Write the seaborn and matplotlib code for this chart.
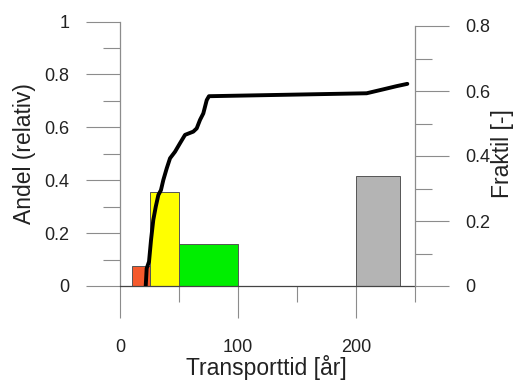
import matplotlib
matplotlib.use("Agg")
import matplotlib.pyplot as plt
import seaborn as sns
import numpy as np
from matplotlib.ticker import FixedLocator, FixedFormatter

# ---- data ----
bin_edges = [10, 25, 50, 100, 200, 237.5]
bar_heights = [0.075, 0.355, 0.158, 0.0, 0.417]
bar_colors = ["#f55a2d", "#ffff00", "#00ee00", "#ffffff", "#b4b4b4"]

line_x = [21.8, 22.6, 24.6, 26.3, 28.2, 30.3, 32.5, 34.7, 36.7, 39.6, 42.4, 46.6,
          50.8, 55.1, 62.1, 65.0, 67.8, 70.6, 73.5, 75.4, 209, 223, 234.5, 243.5]
line_y = [0.0, 0.054, 0.075, 0.142, 0.203, 0.244, 0.280, 0.295, 0.326, 0.362, 0.393, 0.413,
          0.439, 0.465, 0.475, 0.485, 0.511, 0.531, 0.572, 0.584, 0.593, 0.605, 0.615, 0.622]

left_ticks = [0, 0.2, 0.4, 0.6, 0.8, 1.0]
left_labels = ["0", "0.2", "0.4", "0.6", "0.8", "1"]
right_ticks = [0, 0.2, 0.4, 0.6, 0.8]
right_labels = ["0", "0.2", "0.4", "0.6", "0.8"]
x_ticks = [0, 100, 200]
x_labels = ["0", "100", "200"]

sns.set_theme(style="white")
plt.rcParams["font.family"] = ["Liberation Sans", "DejaVu Sans"]

W, H = 516, 382
fig = plt.figure(figsize=(W / 100, H / 100), dpi=100)
ax = fig.add_axes([120 / W, (H - 286) / H, 295 / W, (286 - 21.5) / H])
ax.patch.set_alpha(0)

mids = [(a + b) / 2 for a, b in zip(bin_edges[:-1], bin_edges[1:])]
sns.histplot(x=mids, weights=bar_heights, bins=bin_edges, ax=ax,
             stat="count", edgecolor="#555555", linewidth=0.7, alpha=1)
for p, c, h in zip(ax.patches, bar_colors, bar_heights):
    p.set_facecolor(c)
    if h == 0:
        p.set_visible(False)

ax.set_xlim(0, 250)
ax.set_ylim(0, 1)
ax.set_xlabel("")
ax.set_ylabel("")

ax2 = ax.twinx()
sns.lineplot(x=line_x, y=line_y, ax=ax2, color="black", linewidth=2.8,
             sort=False, estimator=None)
ax2.set_ylim(0, 264.5 / 325)
ax2.set_ylabel("")

spine_c = "#8c8c8c"
for a in (ax, ax2):
    for s in a.spines.values():
        s.set_visible(False)
ax.spines["left"].set_visible(True)
ax.spines["left"].set_color(spine_c)
ax.spines["left"].set_linewidth(0.9)
ax.spines["bottom"].set_visible(True)
ax.spines["bottom"].set_color("#444444")
ax.spines["bottom"].set_linewidth(0.9)
ax2.spines["right"].set_visible(True)
ax2.spines["right"].set_color(spine_c)
ax2.spines["right"].set_linewidth(0.9)
ax2.spines["right"].set_bounds(0, 0.8)

# ticks
ax.xaxis.set_major_locator(FixedLocator(x_ticks))
ax.xaxis.set_major_formatter(FixedFormatter(x_labels))
ax.xaxis.set_minor_locator(FixedLocator([50, 150, 250]))
ax.yaxis.set_major_locator(FixedLocator(left_ticks))
ax.yaxis.set_major_formatter(FixedFormatter(left_labels))
ax.yaxis.set_minor_locator(FixedLocator([0.1, 0.3, 0.5, 0.7, 0.9]))
ax2.yaxis.set_major_locator(FixedLocator(right_ticks))
ax2.yaxis.set_major_formatter(FixedFormatter(right_labels))
ax2.yaxis.set_minor_locator(FixedLocator([0.1, 0.3, 0.5, 0.7]))
ax2.xaxis.set_visible(False)

txt_c = "#222222"
fs_tick = 13
ax.tick_params(axis="x", which="major", direction="out", length=23, width=0.8,
               color=spine_c, pad=15, labelsize=fs_tick, labelcolor=txt_c, bottom=True)
ax.tick_params(axis="x", which="minor", direction="out", length=11.5, width=0.8,
               color=spine_c, bottom=True)
ax.tick_params(axis="y", which="major", direction="out", length=24.5, width=0.8,
               color=spine_c, pad=12, labelsize=fs_tick, labelcolor=txt_c, left=True)
ax.tick_params(axis="y", which="minor", direction="out", length=12, width=0.8,
               color=spine_c, left=True)
ax2.tick_params(axis="y", which="major", direction="out", length=24.5, width=0.8,
                color=spine_c, pad=12, labelsize=fs_tick, labelcolor=txt_c, right=True)
ax2.tick_params(axis="y", which="minor", direction="out", length=12.5, width=0.8,
                color=spine_c, right=True)

fs_lab = 16.5
fig.text(24 / W, 1 - 153.5 / H, "Andel (relativ)", rotation=90, ha="center",
         va="center", fontsize=fs_lab, color=txt_c)
fig.text(503 / W, 1 - 154 / H, "Fraktil [-]", rotation=90, ha="center",
         va="center", fontsize=fs_lab, color=txt_c)
fig.text(266.5 / W, 1 - 375.5 / H, "Transporttid [år]", ha="center",
         va="baseline", fontsize=fs_lab, color=txt_c)

fig.savefig("out.png", dpi=100)
